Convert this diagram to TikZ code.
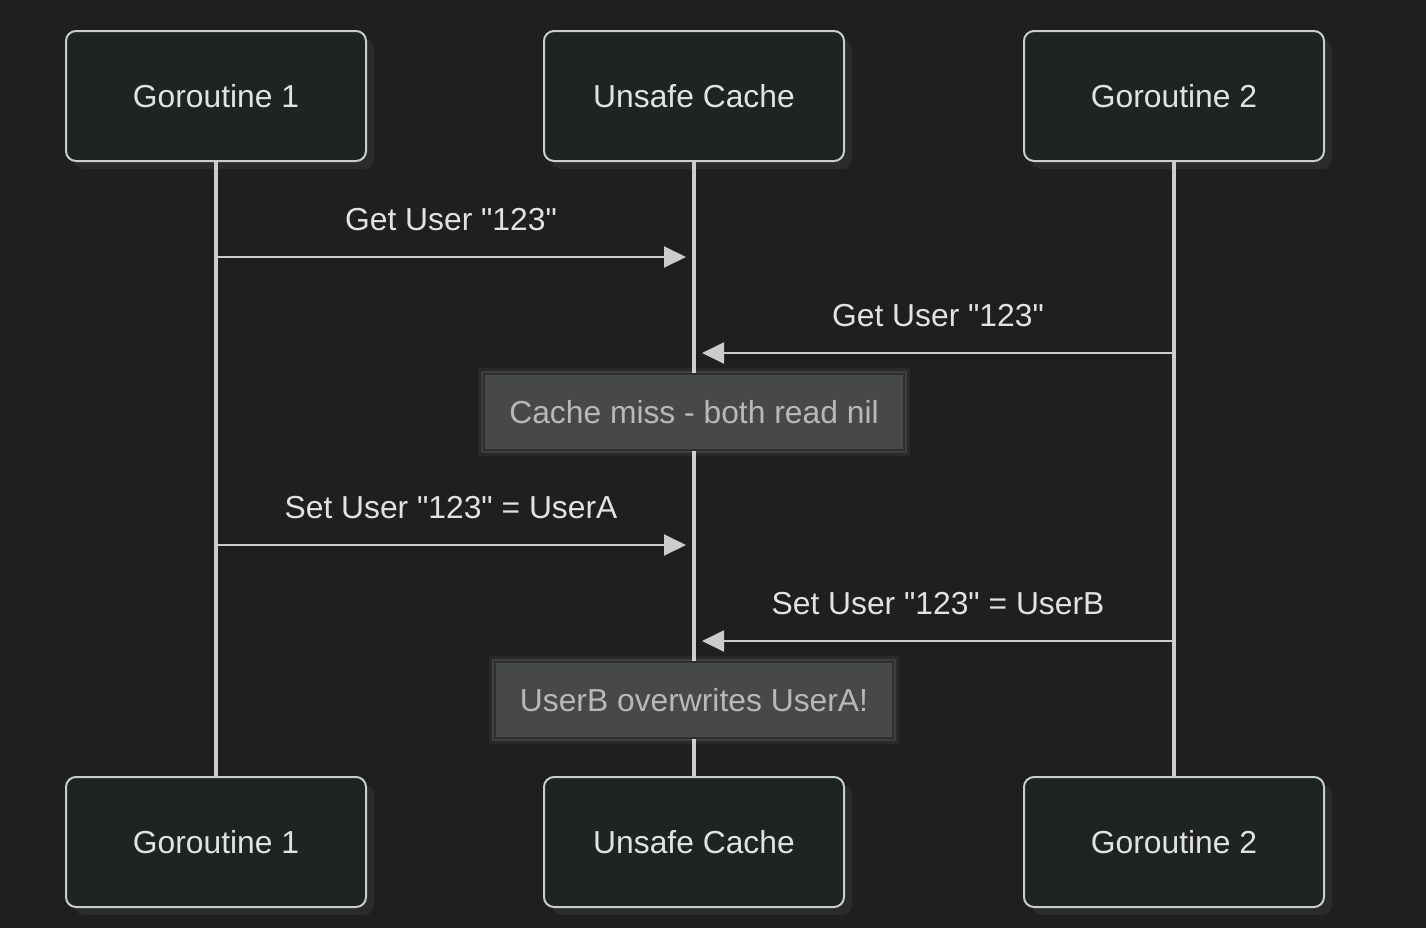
\documentclass[tikz,border=0pt]{standalone}
\usepackage{fontspec}
\setmainfont{Liberation Sans}[Ligatures=TeXOff]
\usetikzlibrary{arrows.meta,shadows}

\definecolor{bg}{HTML}{1F1F1F}
\definecolor{actorfill}{HTML}{1E2323}
\definecolor{actorline}{HTML}{CCCCCC}
\definecolor{shadowgray}{HTML}{2B2B2B}
\definecolor{notefill}{HTML}{474848}
\definecolor{noteline}{HTML}{303030}
\definecolor{notetext}{HTML}{B8B8B8}
\definecolor{msgtext}{HTML}{E2E2E2}

\tikzset{
  actor/.style={draw=actorline, fill=actorfill, line width=1pt, rounded corners=5pt,
    minimum width=150pt, minimum height=65pt, text=msgtext,
    font=\fontsize{15.9}{18}\selectfont,
    drop shadow={shadow xshift=4pt, shadow yshift=-4pt, fill=shadowgray, opacity=1}},
  lifeline/.style={draw=actorline, line width=1.6pt},
  msg/.style={draw=actorline, line width=1pt, -{Triangle[length=11pt,width=10.5pt]}},
  msglabel/.style={text=msgtext, font=\fontsize{15.9}{18}\selectfont, midway, yshift=18.5pt},
  note/.style={draw=noteline, fill=notefill, line width=1pt, inner xsep=12.5pt,
    minimum height=38pt, text=notetext, font=\fontsize{15.9}{18}\selectfont,
    preaction={draw=white, line width=6pt, opacity=0.05},
    preaction={draw=white, line width=3pt, opacity=0.1}}
}

\begin{document}
\begin{tikzpicture}[x=0.5pt, y=-0.5pt]
        \fill[bg] (0,0) rectangle (1426,928);
        \useasboundingbox (0,0) rectangle (1426,928);

        % participants
        \node[actor] (g1top) at (216,96) {Goroutine 1};
        \node[actor] (cachetop) at (694,96) {Unsafe Cache};
        \node[actor] (g2top) at (1174,96) {Goroutine 2};
        \node[actor] (g1bot) at (216,842) {Goroutine 1};
        \node[actor] (cachebot) at (694,842) {Unsafe Cache};
        \node[actor] (g2bot) at (1174,842) {Goroutine 2};

        % lifelines
        \draw[lifeline] (g1top.south) -- (g1bot.north);
        \draw[lifeline] (cachetop.south) -- (cachebot.north);
        \draw[lifeline] (g2top.south) -- (g2bot.north);

        % message points (tips stop short of the cache lifeline)
        \coordinate (g1a) at (216,257);
        \coordinate (cachea) at (686,257);
        \coordinate (g2b) at (1174,353);
        \coordinate (cacheb) at (702,353);
        \coordinate (g1c) at (216,545);
        \coordinate (cachec) at (686,545);
        \coordinate (g2d) at (1174,641);
        \coordinate (cached) at (702,641);

        \draw[msg] (g1a) -- (cachea) node[msglabel]{Get User "123"};
        \draw[msg] (g2b) -- (cacheb) node[msglabel]{Get User "123"};
        \node[note] (miss) at (694,412) {Cache miss - both read nil};
        \draw[msg] (g1c) -- (cachec) node[msglabel]{Set User "123" = UserA};
        \draw[msg] (g2d) -- (cached) node[msglabel]{Set User "123" = UserB};
        \node[note] (overwrite) at (694,700) {UserB overwrites UserA!};
      \end{tikzpicture}
\end{document}
